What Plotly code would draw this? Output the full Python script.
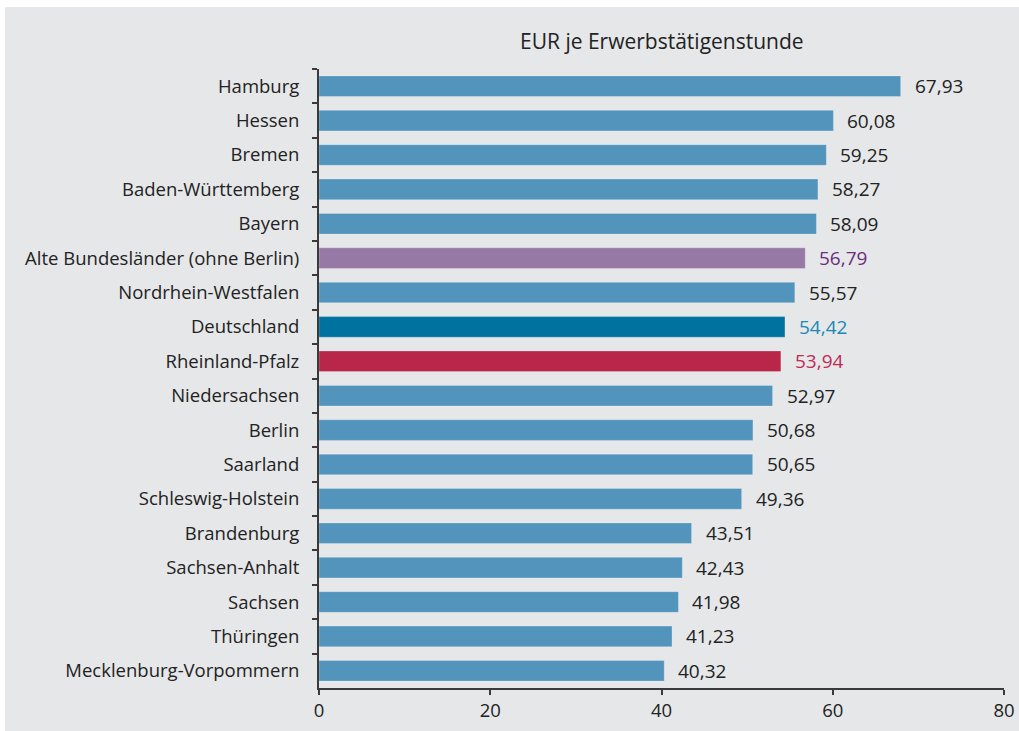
import plotly.graph_objects as go

regions = ["Hamburg", "Hessen", "Bremen", "Baden-Württemberg", "Bayern",
           "Alte Bundesländer (ohne Berlin)", "Nordrhein-Westfalen", "Deutschland",
           "Rheinland-Pfalz", "Niedersachsen", "Berlin", "Saarland",
           "Schleswig-Holstein", "Brandenburg", "Sachsen-Anhalt", "Sachsen",
           "Thüringen", "Mecklenburg-Vorpommern"]
values = [67.93, 60.08, 59.25, 58.27, 58.09, 56.79, 55.57, 54.42, 53.94,
          52.97, 50.68, 50.65, 49.36, 43.51, 42.43, 41.98, 41.23, 40.32]
x_ticks = [0, 20, 40, 60, 80]
title_text = "EUR je Erwerbstätigenstunde"

BASE = "#5294bc"
special_bar = {"Alte Bundesländer (ohne Berlin)": "#9779a5",
               "Deutschland": "#0072a0",
               "Rheinland-Pfalz": "#b8264a"}
special_text = {"Alte Bundesländer (ohne Berlin)": "#6b2d7d",
                "Deutschland": "#1b87b5",
                "Rheinland-Pfalz": "#c22a55"}
TEXT = "#222222"
BG = "#e6e7e9"
FONT = "Open Sans"
FS = 18.5

bar_colors = [special_bar.get(r, BASE) for r in regions]
labels = [f"{v:.2f}".replace(".", ",") for v in values]

fig = go.Figure()
fig.add_trace(go.Bar(
    y=regions, x=values, orientation="h",
    marker=dict(color=bar_colors, line=dict(color="rgba(255,255,255,0.25)", width=1)),
    width=0.6, hoverinfo="skip",
))

for r, v, lab in zip(regions, values, labels):
    fig.add_annotation(x=v, y=r, text=lab, showarrow=False, xanchor="left",
                       xshift=12, font=dict(family=FONT, size=19,
                                            color=special_text.get(r, TEXT)))

fig.add_annotation(x=0.5, y=1, xref="paper", yref="paper", yanchor="bottom",
                   yshift=12, text=title_text, showarrow=False,
                   font=dict(family=FONT, size=21, color=TEXT))

W, H = 1019, 731
L, R, T, B = 319, 15, 69, 43
pw, ph = W - L - R, H - T - B
fig.add_shape(type="rect", xref="paper", yref="paper", layer="below",
              x0=(5 - L) / pw, x1=(W - L) / pw,
              y0=-B / ph, y1=1 + (T - 7) / ph,
              fillcolor=BG, line=dict(width=0))

fig.update_layout(
    width=W, height=H, autosize=False,
    margin=dict(l=L, r=R, t=T, b=B, pad=0, autoexpand=False),
    paper_bgcolor="white", plot_bgcolor=BG,
    showlegend=False,
    font=dict(family=FONT, size=FS, color=TEXT),
    xaxis=dict(range=[0, 80], tickvals=x_ticks, showgrid=False, zeroline=False,
               showline=True, linecolor="#3a3a3a", linewidth=2, automargin=False,
               ticks="outside", ticklen=5, tickcolor="#3a3a3a", tickwidth=1.5,
               tickfont=dict(family=FONT, size=FS, color=TEXT), fixedrange=True),
    yaxis=dict(autorange="reversed", showgrid=False, zeroline=False,
               showline=True, linecolor="#3a3a3a", linewidth=2, automargin=False,
               ticks="outside", ticklen=5, tickcolor="#3a3a3a", tickwidth=1.5,
               tickson="boundaries", ticklabelstandoff=14,
               tickfont=dict(family=FONT, size=FS, color=TEXT), fixedrange=True),
    bargap=0.4,
)

fig.write_html("out.html", config={"displayModeBar": False, "responsive": False})
